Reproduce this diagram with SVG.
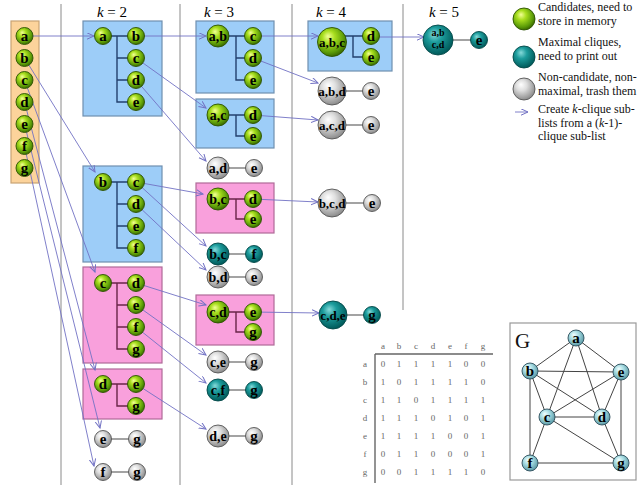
<svg xmlns="http://www.w3.org/2000/svg" width="644" height="485" viewBox="0 0 644 485">
<defs>
<radialGradient id="rgG" cx="0.42" cy="0.38" r="0.62" fx="0.36" fy="0.3">
<stop offset="0" stop-color="#f2ff96"/><stop offset="0.35" stop-color="#a8de1e"/><stop offset="0.8" stop-color="#5c9c08"/><stop offset="1" stop-color="#3c6c00"/></radialGradient>
<radialGradient id="rgT" cx="0.42" cy="0.38" r="0.62" fx="0.36" fy="0.3">
<stop offset="0" stop-color="#86dada"/><stop offset="0.4" stop-color="#1c9c9c"/><stop offset="1" stop-color="#005a5a"/></radialGradient>
<radialGradient id="rgY" cx="0.42" cy="0.38" r="0.62" fx="0.36" fy="0.3">
<stop offset="0" stop-color="#ffffff"/><stop offset="0.4" stop-color="#dedede"/><stop offset="1" stop-color="#8c8c8c"/></radialGradient>
<radialGradient id="rgC" cx="0.42" cy="0.38" r="0.62" fx="0.36" fy="0.3">
<stop offset="0" stop-color="#f2ffff"/><stop offset="0.45" stop-color="#a8dde3"/><stop offset="1" stop-color="#5c9aa6"/></radialGradient>
<marker id="ah" markerWidth="9" markerHeight="9" refX="7" refY="3.5" orient="auto" markerUnits="userSpaceOnUse">
<path d="M0,0.3 L7,3.5 L0,6.7" fill="none" stroke="#7272c4" stroke-width="1"/></marker>
<style>
.sep{stroke:#8a8a8a;stroke-width:1}
.bb{fill:#9dcdf8;stroke:#6f8fb0;stroke-width:1.2}
.bp{fill:#f9a0dc;stroke:#b06a98;stroke-width:1.2}
.bo{fill:#fcd39b;stroke:#c9a373;stroke-width:1.2}
.trb{stroke:#23406e;stroke-width:1.4;fill:none}
.trp{stroke:#6a2448;stroke-width:1.4;fill:none}
.pair{stroke:#858585;stroke-width:1.4;fill:none}
.arr{stroke:#7272c4;stroke-width:0.9;fill:none;marker-end:url(#ah)}
.cg{fill:url(#rgG);stroke:#2c5200;stroke-width:0.9}
.ct{fill:url(#rgT);stroke:#034848;stroke-width:0.9}
.cy{fill:url(#rgY);stroke:#555;stroke-width:0.9}
.cc{fill:url(#rgC);stroke:#2d4d5a;stroke-width:0.9}
text{font-family:"Liberation Serif",serif}
.n1{font-weight:bold;font-size:15px;text-anchor:middle;fill:#000}
.n2{font-weight:bold;font-size:14px;text-anchor:middle;fill:#000}
.n3{font-weight:bold;font-size:13px;text-anchor:middle;fill:#000}
.n4{font-weight:bold;font-size:10px;text-anchor:middle;fill:#000}
.hd{font-size:15px;fill:#000;text-anchor:middle}
.lg{font-size:12px;fill:#111}
.mx{font-size:9px;fill:#666;text-anchor:middle}
.ge{stroke:#444;stroke-width:1;fill:none}
</style>
</defs>
<rect width="644" height="485" fill="#fff"/>

<g id="separators">
<line class="sep" x1="61" y1="4" x2="61" y2="485"/>
<line class="sep" x1="180" y1="4" x2="180" y2="485"/>
<line class="sep" x1="292" y1="4" x2="292" y2="485"/>
<line class="sep" x1="403" y1="4" x2="403" y2="310"/>
</g>
<g id="headers">
<text class="hd" x="112" y="17"><tspan font-style="italic">k</tspan> = 2</text>
<text class="hd" x="219" y="17"><tspan font-style="italic">k</tspan> = 3</text>
<text class="hd" x="331" y="17"><tspan font-style="italic">k</tspan> = 4</text>
<text class="hd" x="444" y="17"><tspan font-style="italic">k</tspan> = 5</text>
</g>

<g id="boxes">
<rect class="bo" x="11" y="21" width="28" height="162"/>
<rect class="bb" x="83" y="21" width="79" height="95"/>
<rect class="bb" x="83" y="166" width="79" height="96"/>
<rect class="bp" x="83" y="267" width="79" height="96"/>
<rect class="bp" x="83" y="369" width="79" height="50"/>
<rect class="bb" x="196" y="21" width="78" height="72"/>
<rect class="bb" x="196" y="99" width="78" height="49"/>
<rect class="bp" x="196" y="183" width="78" height="50"/>
<rect class="bp" x="196" y="295" width="78" height="50"/>
<rect class="bb" x="308" y="21" width="84" height="50"/>
</g>

<g id="connectors">
<path class="trb" d="M103,36 H136 M117,36 V102 H136 M117,58 H136 M117,80 H136"/>
<path class="trb" d="M103,182 H136 M117,182 V248 H136 M117,204 H136 M117,226 H136"/>
<path class="trp" d="M103,283 H136 M117,283 V349 H136 M117,305 H136 M117,327 H136"/>
<path class="trp" d="M103,384 H136 M117,384 V406 H136"/>
<path class="trb" d="M218,36 H253 M236,36 V80 H253 M236,58 H253"/>
<path class="trb" d="M218,115 H253 M236,115 V136 H253"/>
<path class="trp" d="M218,199 H253 M236,199 V219 H253"/>
<path class="trp" d="M218,312 H253 M236,312 V332 H253"/>
<path class="trb" d="M340,36 H371 M353,36 V57 H371"/>
<path class="pair" d="M218,168 H254 M218,254 H254 M218,277 H254 M218,362 H254 M218,390 H254 M218,436 H254 M103,439 H137 M103,472 H137 M332,91 H371 M332,125 H371 M332,203 H372 M333,315 H372 M438,40 H479"/>
<path class="arr" d="M33,36 H94"/>
<path class="arr" d="M144,36 H206"/>
<path class="arr" d="M261,36 H318"/>
<path class="arr" d="M379,37 H424"/>
<path class="arr" d="M24.5,58 L95,172"/>
<path class="arr" d="M24.5,80 L95,272"/>
<path class="arr" d="M24.5,102 L95,370"/>
<path class="arr" d="M24.5,124 L100,428"/>
<path class="arr" d="M24.5,146 L94,466"/>
<path class="arr" d="M136,58 L206,108"/>
<path class="arr" d="M136,80 L206,161"/>
<path class="arr" d="M136,182 L203,194"/>
<path class="arr" d="M136,182 L206,246"/>
<path class="arr" d="M136,204 L206,270"/>
<path class="arr" d="M136,283 L206,305"/>
<path class="arr" d="M136,305 L206,355"/>
<path class="arr" d="M136,327 L206,383"/>
<path class="arr" d="M136,384 L206,429"/>
<path class="arr" d="M253,58 L318,83"/>
<path class="arr" d="M253,115 L318,120"/>
<path class="arr" d="M253,199 L318,202"/>
<path class="arr" d="M253,312 L319,313"/>
</g>

<g id="L-a"><circle class="cg" cx="24.5" cy="36" r="8.5"/><text class="n1" x="24.5" y="40.5">a</text></g>
<g id="L-b"><circle class="cg" cx="24.5" cy="58" r="8.5"/><text class="n1" x="24.5" y="62.5">b</text></g>
<g id="L-c"><circle class="cg" cx="24.5" cy="80" r="8.5"/><text class="n1" x="24.5" y="84.5">c</text></g>
<g id="L-d"><circle class="cg" cx="24.5" cy="102" r="8.5"/><text class="n1" x="24.5" y="106.5">d</text></g>
<g id="L-e"><circle class="cg" cx="24.5" cy="124" r="8.5"/><text class="n1" x="24.5" y="128.5">e</text></g>
<g id="L-f"><circle class="cg" cx="24.5" cy="146" r="8.5"/><text class="n1" x="24.5" y="150.5">f</text></g>
<g id="L-g"><circle class="cg" cx="24.5" cy="168" r="8.5"/><text class="n1" x="24.5" y="172.5">g</text></g>

<g id="k2a-a"><circle class="cg" cx="103" cy="36" r="8.5"/><text class="n1" x="103" y="40.5">a</text></g>
<g id="k2a-b"><circle class="cg" cx="136" cy="36" r="8.5"/><text class="n1" x="136" y="40.5">b</text></g>
<g id="k2a-c"><circle class="cg" cx="136" cy="58" r="8.5"/><text class="n1" x="136" y="62.5">c</text></g>
<g id="k2a-d"><circle class="cg" cx="136" cy="80" r="8.5"/><text class="n1" x="136" y="84.5">d</text></g>
<g id="k2a-e"><circle class="cg" cx="136" cy="102" r="8.5"/><text class="n1" x="136" y="106.5">e</text></g>

<g id="k2b-b"><circle class="cg" cx="103" cy="182" r="8.5"/><text class="n1" x="103" y="186.5">b</text></g>
<g id="k2b-c"><circle class="cg" cx="136" cy="182" r="8.5"/><text class="n1" x="136" y="186.5">c</text></g>
<g id="k2b-d"><circle class="cg" cx="136" cy="204" r="8.5"/><text class="n1" x="136" y="208.5">d</text></g>
<g id="k2b-e"><circle class="cg" cx="136" cy="226" r="8.5"/><text class="n1" x="136" y="230.5">e</text></g>
<g id="k2b-f"><circle class="cg" cx="136" cy="248" r="8.5"/><text class="n1" x="136" y="252.5">f</text></g>

<g id="k2c-c"><circle class="cg" cx="103" cy="283" r="8.5"/><text class="n1" x="103" y="287.5">c</text></g>
<g id="k2c-d"><circle class="cg" cx="136" cy="283" r="8.5"/><text class="n1" x="136" y="287.5">d</text></g>
<g id="k2c-e"><circle class="cg" cx="136" cy="305" r="8.5"/><text class="n1" x="136" y="309.5">e</text></g>
<g id="k2c-f"><circle class="cg" cx="136" cy="327" r="8.5"/><text class="n1" x="136" y="331.5">f</text></g>
<g id="k2c-g"><circle class="cg" cx="136" cy="349" r="8.5"/><text class="n1" x="136" y="353.5">g</text></g>

<g id="k2d-d"><circle class="cg" cx="103" cy="384" r="8.5"/><text class="n1" x="103" y="388.5">d</text></g>
<g id="k2d-e"><circle class="cg" cx="136" cy="384" r="8.5"/><text class="n1" x="136" y="388.5">e</text></g>
<g id="k2d-g"><circle class="cg" cx="136" cy="406" r="8.5"/><text class="n1" x="136" y="410.5">g</text></g>

<g id="k2e-e"><circle class="cy" cx="103" cy="439" r="8.5"/><text class="n1" x="103" y="443.5">e</text></g>
<g id="k2e-g"><circle class="cy" cx="137" cy="439" r="8.5"/><text class="n1" x="137" y="443.5">g</text></g>
<g id="k2f-f"><circle class="cy" cx="103" cy="472" r="8.5"/><text class="n1" x="103" y="476.5">f</text></g>
<g id="k2f-g"><circle class="cy" cx="137" cy="472" r="8.5"/><text class="n1" x="137" y="476.5">g</text></g>

<g id="k3ab-ab"><circle class="cg" cx="218" cy="36" r="11"/><text class="n2" x="218" y="40.5">a,b</text></g>
<g id="k3ab-c"><circle class="cg" cx="253" cy="36" r="8.5"/><text class="n1" x="253" y="40.5">c</text></g>
<g id="k3ab-d"><circle class="cg" cx="253" cy="58" r="8.5"/><text class="n1" x="253" y="62.5">d</text></g>
<g id="k3ab-e"><circle class="cg" cx="253" cy="80" r="8.5"/><text class="n1" x="253" y="84.5">e</text></g>

<g id="k3ac-ac"><circle class="cg" cx="218" cy="115" r="11"/><text class="n2" x="218" y="119.5">a,c</text></g>
<g id="k3ac-d"><circle class="cg" cx="253" cy="115" r="8.5"/><text class="n1" x="253" y="119.5">d</text></g>
<g id="k3ac-e"><circle class="cg" cx="253" cy="136" r="8.5"/><text class="n1" x="253" y="140.5">e</text></g>

<g id="k3ad-ad"><circle class="cy" cx="218" cy="168" r="11"/><text class="n2" x="218" y="172.5">a,d</text></g>
<g id="k3ad-e"><circle class="cy" cx="254" cy="168" r="8.5"/><text class="n1" x="254" y="172.5">e</text></g>

<g id="k3bc-bc"><circle class="cg" cx="218" cy="199" r="11"/><text class="n2" x="218" y="203.5">b,c</text></g>
<g id="k3bc-d"><circle class="cg" cx="253" cy="199" r="8.5"/><text class="n1" x="253" y="203.5">d</text></g>
<g id="k3bc-e"><circle class="cg" cx="253" cy="219" r="8.5"/><text class="n1" x="253" y="223.5">e</text></g>

<g id="k3bcm-bc"><circle class="ct" cx="218" cy="254" r="11"/><text class="n2" x="218" y="258.5">b,c</text></g>
<g id="k3bcm-f"><circle class="ct" cx="254" cy="254" r="8.5"/><text class="n1" x="254" y="258.5">f</text></g>

<g id="k3bd-bd"><circle class="cy" cx="218" cy="277" r="11"/><text class="n2" x="218" y="281.5">b,d</text></g>
<g id="k3bd-e"><circle class="cy" cx="254" cy="277" r="8.5"/><text class="n1" x="254" y="281.5">e</text></g>

<g id="k3cd-cd"><circle class="cg" cx="218" cy="312" r="11"/><text class="n2" x="218" y="316.5">c,d</text></g>
<g id="k3cd-e"><circle class="cg" cx="253" cy="312" r="8.5"/><text class="n1" x="253" y="316.5">e</text></g>
<g id="k3cd-g"><circle class="cg" cx="253" cy="332" r="8.5"/><text class="n1" x="253" y="336.5">g</text></g>

<g id="k3ce-ce"><circle class="cy" cx="218" cy="362" r="11"/><text class="n2" x="218" y="366.5">c,e</text></g>
<g id="k3ce-g"><circle class="cy" cx="254" cy="362" r="8.5"/><text class="n1" x="254" y="366.5">g</text></g>

<g id="k3cf-cf"><circle class="ct" cx="218" cy="390" r="11"/><text class="n2" x="218" y="394.5">c,f</text></g>
<g id="k3cf-g"><circle class="ct" cx="254" cy="390" r="8.5"/><text class="n1" x="254" y="394.5">g</text></g>

<g id="k3de-de"><circle class="cy" cx="218" cy="436" r="11"/><text class="n2" x="218" y="440.5">d,e</text></g>
<g id="k3de-g"><circle class="cy" cx="254" cy="436" r="8.5"/><text class="n1" x="254" y="440.5">g</text></g>

<g id="k4abc-abc"><circle class="cg" cx="332" cy="42" r="14.5"/><text class="n3" x="332" y="46.5">a,b,c</text></g>
<g id="k4abc-d"><circle class="cg" cx="371" cy="36" r="8.5"/><text class="n1" x="371" y="40.5">d</text></g>
<g id="k4abc-e"><circle class="cg" cx="371" cy="57" r="8.5"/><text class="n1" x="371" y="61.5">e</text></g>

<g id="k4abd-abd"><circle class="cy" cx="332" cy="91" r="14"/><text class="n3" x="332" y="95.5">a,b,d</text></g>
<g id="k4abd-e"><circle class="cy" cx="371" cy="91" r="8.5"/><text class="n1" x="371" y="95.5">e</text></g>

<g id="k4acd-acd"><circle class="cy" cx="332" cy="125" r="14"/><text class="n3" x="332" y="129.5">a,c,d</text></g>
<g id="k4acd-e"><circle class="cy" cx="371" cy="125" r="8.5"/><text class="n1" x="371" y="129.5">e</text></g>

<g id="k4bcd-bcd"><circle class="cy" cx="332" cy="203" r="14"/><text class="n3" x="332" y="207.5">b,c,d</text></g>
<g id="k4bcd-e"><circle class="cy" cx="372" cy="203" r="8.5"/><text class="n1" x="372" y="207.5">e</text></g>

<g id="k4cde-cde"><circle class="ct" cx="333" cy="315" r="14"/><text class="n3" x="333" y="319.5">c,d,e</text></g>
<g id="k4cde-g"><circle class="ct" cx="372" cy="315" r="8.5"/><text class="n1" x="372" y="319.5">g</text></g>

<g id="k5abcd-abcd"><circle class="ct" cx="438" cy="40" r="15"/><text class="n4" x="438" y="35.5">a,b</text><text class="n4" x="438" y="47.5">c,d</text></g>
<g id="k5abcd-e"><circle class="ct" cx="479" cy="40" r="8.5"/><text class="n1" x="479" y="44.5">e</text></g>

<g id="legend">
<circle class="cg" cx="524" cy="19" r="11"/>
<text class="lg" x="538" y="11">Candidates, need to</text>
<text class="lg" x="538" y="25">store in memory</text>
<circle class="ct" cx="524" cy="57" r="11"/>
<text class="lg" x="538" y="46">Maximal cliques,</text>
<text class="lg" x="538" y="60">need to print out</text>
<circle class="cy" cx="524" cy="89" r="11"/>
<text class="lg" x="538" y="81">Non-candidate, non-</text>
<text class="lg" x="538" y="95">maximal, trash them</text>
<path class="arr" d="M515,112 H528"/>
<text class="lg" x="538" y="113">Create <tspan font-style="italic">k</tspan>-clique sub-</text>
<text class="lg" x="538" y="127">lists from a (<tspan font-style="italic">k</tspan>-1)-</text>
<text class="lg" x="538" y="140">clique sub-list</text>
</g>

<g id="matrix">
<path d="M375,354 V483 M375,354 H493" stroke="#666" stroke-width="1.4" fill="none"/>
<g class="mx">
<text x="383" y="349">a</text><text x="399" y="349">b</text><text x="416" y="349">c</text><text x="433" y="349">d</text><text x="450" y="349">e</text><text x="466" y="349">f</text><text x="483" y="349">g</text>
<text x="365" y="367">a</text><text x="365" y="385">b</text><text x="365" y="403">c</text><text x="365" y="421">d</text><text x="365" y="439">e</text><text x="365" y="457">f</text><text x="365" y="475">g</text>
<text x="383" y="367">0</text><text x="399" y="367">1</text><text x="416" y="367">1</text><text x="433" y="367">1</text><text x="450" y="367">1</text><text x="466" y="367">0</text><text x="483" y="367">0</text>
<text x="383" y="385">1</text><text x="399" y="385">0</text><text x="416" y="385">1</text><text x="433" y="385">1</text><text x="450" y="385">1</text><text x="466" y="385">1</text><text x="483" y="385">0</text>
<text x="383" y="403">1</text><text x="399" y="403">1</text><text x="416" y="403">0</text><text x="433" y="403">1</text><text x="450" y="403">1</text><text x="466" y="403">1</text><text x="483" y="403">1</text>
<text x="383" y="421">1</text><text x="399" y="421">1</text><text x="416" y="421">1</text><text x="433" y="421">0</text><text x="450" y="421">1</text><text x="466" y="421">0</text><text x="483" y="421">1</text>
<text x="383" y="439">1</text><text x="399" y="439">1</text><text x="416" y="439">1</text><text x="433" y="439">1</text><text x="450" y="439">0</text><text x="466" y="439">0</text><text x="483" y="439">1</text>
<text x="383" y="457">0</text><text x="399" y="457">1</text><text x="416" y="457">1</text><text x="433" y="457">0</text><text x="450" y="457">0</text><text x="466" y="457">0</text><text x="483" y="457">1</text>
<text x="383" y="475">0</text><text x="399" y="475">0</text><text x="416" y="475">1</text><text x="433" y="475">1</text><text x="450" y="475">1</text><text x="466" y="475">1</text><text x="483" y="475">0</text>
</g>
</g>

<g id="graphG">
<rect x="510" y="323" width="126" height="157" fill="#fff" stroke="#999" stroke-width="1.2"/>
<text x="515" y="348" font-size="21" fill="#111">G</text>
<path class="ge" d="M576,338 L530,371 M576,338 L547,417 M576,338 L602,417 M576,338 L621,372 M530,371 L547,417 M530,371 L602,417 M530,371 L621,372 M530,371 L530,463 M547,417 L602,417 M547,417 L621,372 M547,417 L530,463 M547,417 L621,463 M602,417 L621,372 M602,417 L621,463 M621,372 L621,463 M530,463 L621,463"/>
<g id="G-a"><circle class="cc" cx="576" cy="338" r="8"/><text class="n1" x="576" y="342.5" font-size="14px">a</text></g>
<g id="G-b"><circle class="cc" cx="530" cy="371" r="8"/><text class="n1" x="530" y="375.5" font-size="14px">b</text></g>
<g id="G-e"><circle class="cc" cx="621" cy="372" r="8"/><text class="n1" x="621" y="376.5" font-size="14px">e</text></g>
<g id="G-c"><circle class="cc" cx="547" cy="417" r="8"/><text class="n1" x="547" y="421.5" font-size="14px">c</text></g>
<g id="G-d"><circle class="cc" cx="602" cy="417" r="8"/><text class="n1" x="602" y="421.5" font-size="14px">d</text></g>
<g id="G-f"><circle class="cc" cx="530" cy="463" r="8"/><text class="n1" x="530" y="467.5" font-size="14px">f</text></g>
<g id="G-g"><circle class="cc" cx="621" cy="463" r="8"/><text class="n1" x="621" y="467.5" font-size="14px">g</text></g>
</g>
</svg>
